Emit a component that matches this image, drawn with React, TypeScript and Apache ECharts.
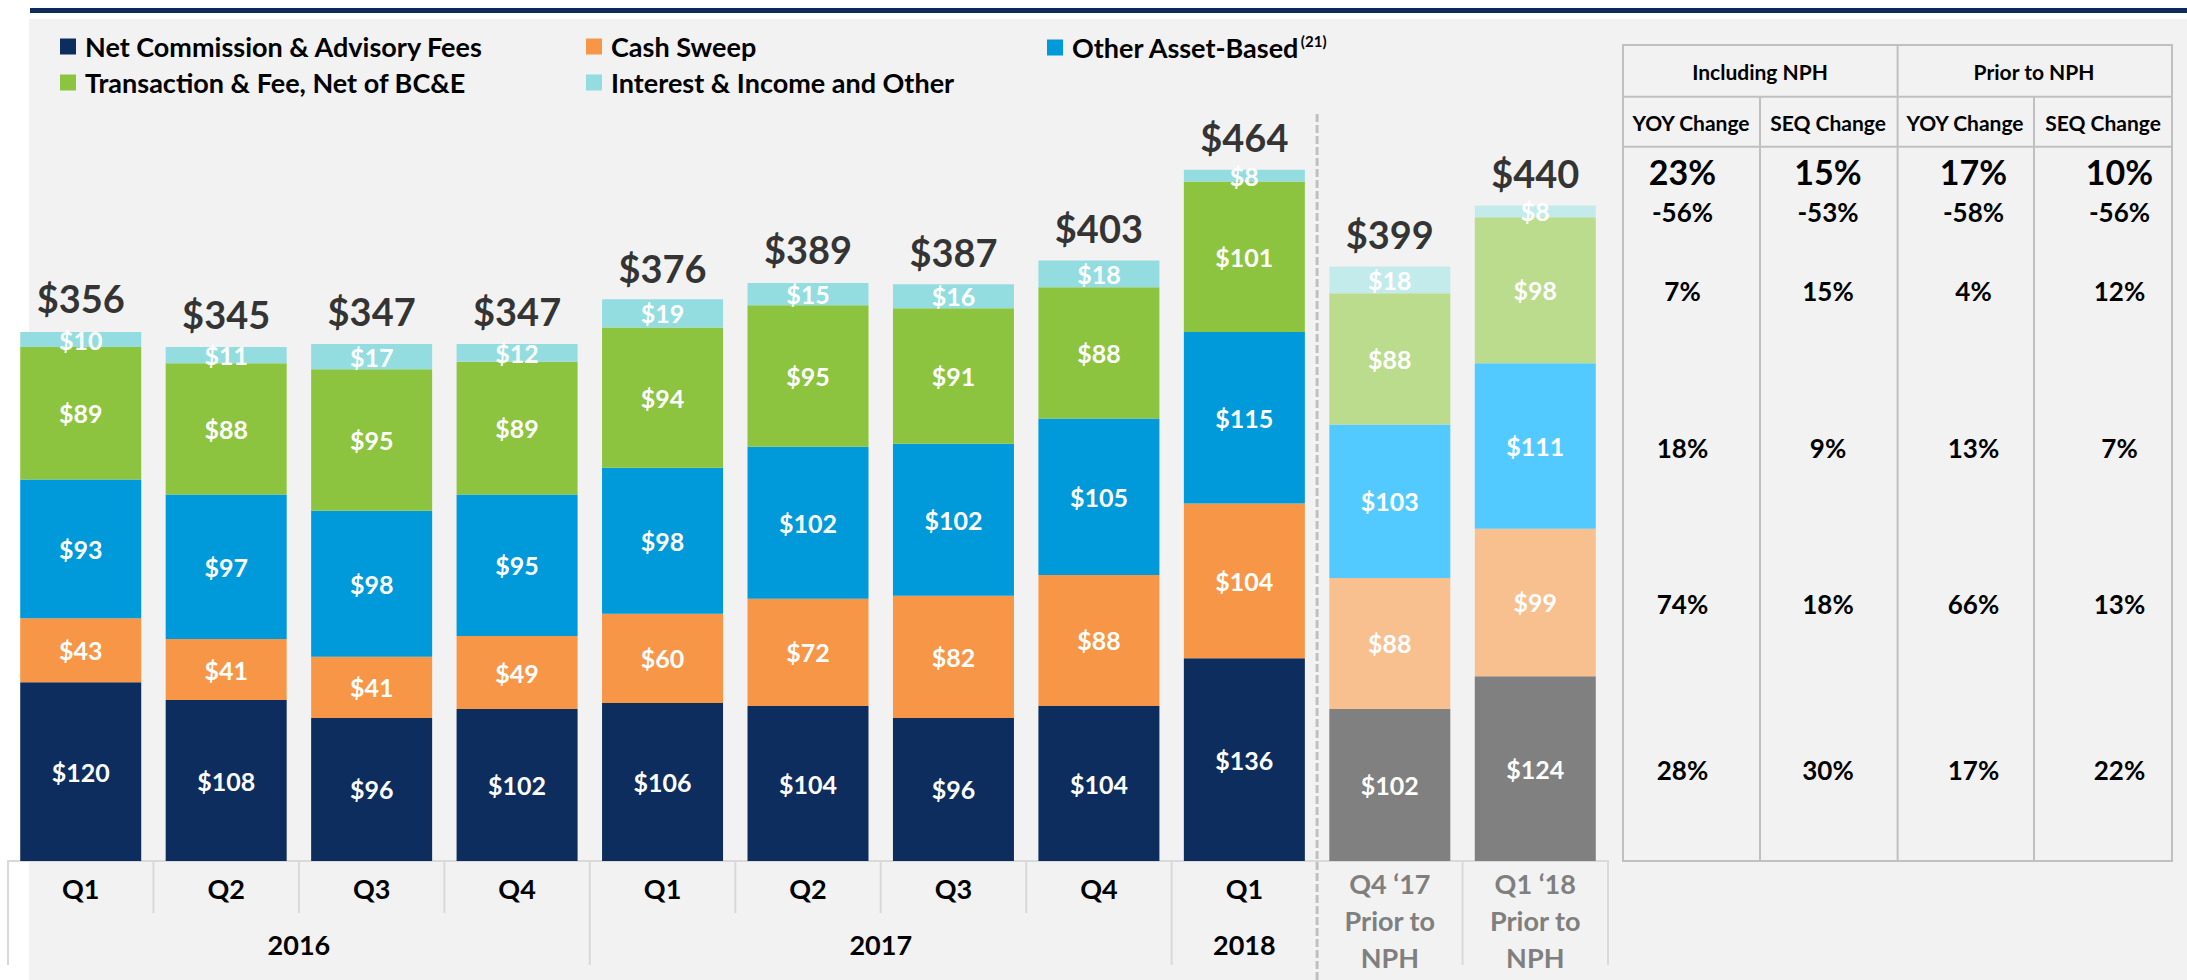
import React, { useEffect, useRef } from 'react';
import * as echarts from 'echarts';

// ---------- DATA ----------
const categories = [
  'Q1 2016', 'Q2 2016', 'Q3 2016', 'Q4 2016',
  'Q1 2017', 'Q2 2017', 'Q3 2017', 'Q4 2017',
  'Q1 2018', 'Q4 ‘17 Prior to NPH', 'Q1 ‘18 Prior to NPH',
];
const quarterLabels = ['Q1', 'Q2', 'Q3', 'Q4', 'Q1', 'Q2', 'Q3', 'Q4', 'Q1', 'Q4 ‘17\nPrior to\nNPH', 'Q1 ‘18\nPrior to\nNPH'];
const priorToNPH = [false, false, false, false, false, false, false, false, false, true, true];

const seriesNames = [
  'Net Commission & Advisory Fees',
  'Cash Sweep',
  'Other Asset-Based',
  'Transaction & Fee, Net of BC&E',
  'Interest & Income and Other',
];
const netCommission = [120, 108, 96, 102, 106, 104, 96, 104, 136, 102, 124];
const cashSweep = [43, 41, 41, 49, 60, 72, 82, 88, 104, 88, 99];
const otherAssetBased = [93, 97, 98, 95, 98, 102, 102, 105, 115, 103, 111];
const transactionFee = [89, 88, 95, 89, 94, 95, 91, 88, 101, 88, 98];
const interestIncome = [10, 11, 17, 12, 19, 15, 16, 18, 8, 18, 8];
const totals = [356, 345, 347, 347, 376, 389, 387, 403, 464, 399, 440];

const yearLabels = ['2016', '2017', '2018'];
const yearPositions = [2, 6, 8.5]; // band units along the category axis
const shortSeparators = [1, 2, 3, 5, 6, 7];
const longSeparators = [0, 4, 8, 10, 11];
const dashedSeparators = [9];

const tableGroups = ['Including NPH', 'Prior to NPH'];
const tableSubHeads = ['YOY Change', 'SEQ Change', 'YOY Change', 'SEQ Change'];
const tableTotalRow = ['23%', '15%', '17%', '10%'];
const tableInterestRow = ['-56%', '-53%', '-58%', '-56%'];
const tableTransactionRow = ['7%', '15%', '4%', '12%'];
const tableOtherRow = ['18%', '9%', '13%', '7%'];
const tableCashRow = ['74%', '18%', '66%', '13%'];
const tableNetRow = ['28%', '30%', '17%', '22%'];

// ---------- STYLE ----------
const FONT = 'Lato, "Noto Sans", sans-serif';
const colors = ['#0D2D5E', '#F79646', '#0099DA', '#8DC43F', '#93DDE0'];
const priorColors = ['#808080', '#F9C08F', '#53CAFF', '#BBDC8D', '#C3EBEC'];
const seriesValues = [netCommission, cashSweep, otherAssetBased, transactionFee, interestIncome];

const W = 2187;
const H = 980;
const GRID = { left: 8, right: 579, top: 116, bottom: 119 };
const Y_MAX = 500;

const TABLE = { left: 1623, right: 2172, top: 45, row1: 96.7, row2: 146.7, bottom: 861 };
const tableColDividers = [1760, 1897.6, 2034];
const tableGroupCenters = [1760, 2034];
const tableHeadCenters = [1691, 1828, 1965, 2103];
const tableBodyCenters = [1682.5, 1828, 1973.5, 2119.5];
const tableRowY = [171.7, 211.7, 290.7, 447.5, 603.7, 770];

function buildOption() {
  const barSeries = seriesNames.map((name, s) => ({
    type: 'bar',
    name,
    stack: 'total',
    barWidth: 121,
    xAxisIndex: 0,
    yAxisIndex: 0,
    itemStyle: { color: colors[s] },
    data: seriesValues[s].map((v, i) => ({
      value: v,
      itemStyle: { color: priorToNPH[i] ? priorColors[s] : colors[s] },
    })),
    label: {
      show: true,
      position: 'inside',
      color: '#FFFFFF',
      fontFamily: FONT,
      fontWeight: 'bold',
      fontSize: 25,
      formatter: (p: any) => '$' + p.value,
    },
  }));

  const totalSeries = {
    type: 'scatter',
    name: 'Total',
    xAxisIndex: 0,
    yAxisIndex: 0,
    data: totals,
    symbolSize: 1,
    itemStyle: { color: 'rgba(0,0,0,0)' },
    z: 5,
    label: {
      show: true,
      position: 'top',
      distance: 13,
      color: '#000000',
      fontFamily: FONT,
      fontWeight: 'bold',
      fontSize: 38,
      formatter: (p: any) => '$' + p.value,
    },
  };

  const separatorData = [
    ...shortSeparators.map((v) => [v, 0]),
    ...longSeparators.map((v) => [v, 1]),
    ...dashedSeparators.map((v) => [v, 2]),
  ];
  const separatorSeries = {
    type: 'custom',
    name: 'separators',
    xAxisIndex: 1,
    yAxisIndex: 0,
    clip: false,
    silent: true,
    data: separatorData,
    renderItem: (params: any, api: any) => {
      const v = api.value(0);
      const kind = api.value(1);
      const base = api.coord([v, 0]);
      if (kind === 2) {
        const top = api.coord([v, Y_MAX]);
        return {
          type: 'line',
          shape: { x1: base[0], y1: top[1] - 2, x2: base[0], y2: H },
          style: { stroke: '#C0C0C0', lineWidth: 3, lineDash: [8, 3] },
        };
      }
      const len = kind === 0 ? 52 : 104;
      return {
        type: 'line',
        shape: { x1: base[0], y1: base[1], x2: base[0], y2: base[1] + len },
        style: { stroke: '#D9D9D9', lineWidth: 2 },
      };
    },
  };

  const legendPos = [
    { left: 60, top: 33 },
    { left: 586, top: 33 },
    { left: 1047, top: 33 },
    { left: 60, top: 69 },
    { left: 586, top: 69 },
  ];
  const legends = seriesNames.map((name, i) => ({
    data: [name],
    left: legendPos[i].left,
    top: legendPos[i].top,
    padding: 0,
    icon: 'rect',
    itemWidth: 16,
    itemHeight: 16,
    selectedMode: false,
    formatter: (n: string) => (n === 'Other Asset-Based' ? '{n|' + n + '}{s|(21)}' : '{n|' + n + '}'),
    textStyle: {
      fontFamily: FONT,
      fontSize: 27,
      fontWeight: 'bold',
      color: '#000000',
      rich: {
        n: { fontFamily: FONT, fontSize: 27, fontWeight: 'bold', color: '#000000', padding: [0, 0, 0, 4] },
        s: { fontFamily: FONT, fontSize: 15, fontWeight: 'bold', color: '#000000', verticalAlign: 'top', padding: [0, 0, 14, 1] },
      },
    },
  }));

  // Table graphics
  const line = (x1: number, y1: number, x2: number, y2: number) => ({
    type: 'line',
    silent: true,
    shape: { x1, y1, x2, y2 },
    style: { stroke: '#C0C0C0', lineWidth: 2 },
  });
  const text = (x: number, y: number, t: string, size: number) => ({
    type: 'text',
    silent: true,
    x,
    y,
    style: {
      text: t,
      fill: '#000000',
      font: `bold ${size}px ${FONT}`,
      fontFamily: FONT,
      fontSize: size,
      fontWeight: 'bold',
      align: 'center',
      verticalAlign: 'middle',
    },
  });
  const tableEls: any[] = [
    {
      type: 'rect',
      silent: true,
      shape: { x: TABLE.left, y: TABLE.top, width: TABLE.right - TABLE.left, height: TABLE.bottom - TABLE.top },
      style: { fill: 'rgba(0,0,0,0)', stroke: '#C0C0C0', lineWidth: 2 },
    },
    line(TABLE.left, TABLE.row1, TABLE.right, TABLE.row1),
    line(TABLE.left, TABLE.row2, TABLE.right, TABLE.row2),
    line(tableColDividers[1], TABLE.top, tableColDividers[1], TABLE.bottom),
    line(tableColDividers[0], TABLE.row1, tableColDividers[0], TABLE.bottom),
    line(tableColDividers[2], TABLE.row1, tableColDividers[2], TABLE.bottom),
  ];
  tableGroups.forEach((g, i) => tableEls.push(text(tableGroupCenters[i], (TABLE.top + TABLE.row1) / 2 + 1, g, 21)));
  tableSubHeads.forEach((h, i) => tableEls.push(text(tableHeadCenters[i], (TABLE.row1 + TABLE.row2) / 2 + 1, h, 21)));
  const bodyRows = [tableTotalRow, tableInterestRow, tableTransactionRow, tableOtherRow, tableCashRow, tableNetRow];
  bodyRows.forEach((row, r) => {
    row.forEach((v, c) => tableEls.push(text(tableBodyCenters[c], tableRowY[r], v, r === 0 ? 34 : 26)));
  });

  return {
    animation: false,
    backgroundColor: '#FFFFFF',
    textStyle: { fontFamily: FONT },
    grid: { ...GRID, containLabel: false, outerBoundsMode: 'none' },
    legend: legends,
    tooltip: { show: false },
    xAxis: [
      {
        type: 'category',
        data: categories,
        position: 'bottom',
        boundaryGap: true,
        axisLine: { show: true, lineStyle: { color: '#D9D9D9', width: 2 } },
        axisTick: { show: false },
        splitLine: { show: false },
        axisLabel: {
          interval: 0,
          margin: 4,
          formatter: (_v: string, idx: number) => {
            const lbl = quarterLabels[idx];
            if (priorToNPH[idx]) return lbl.split('\n').map((l) => '{g|' + l + '}').join('\n');
            return '{q|' + lbl + '}';
          },
          rich: {
            q: { fontFamily: FONT, fontSize: 27, fontWeight: 'bold', color: '#000000', lineHeight: 37, padding: [9, 0, 0, 0] },
            g: { fontFamily: FONT, fontSize: 27, fontWeight: 'bold', color: '#7F7F7F', lineHeight: 37 },
          },
        },
      },
      {
        type: 'value',
        min: 0,
        max: categories.length,
        position: 'bottom',
        show: false,
      },
      {
        type: 'value',
        min: 0,
        max: categories.length,
        position: 'bottom',
        axisLine: { show: false },
        axisTick: { show: false },
        splitLine: { show: false },
        axisLabel: {
          customValues: yearPositions,
          margin: 70,
          fontFamily: FONT,
          fontSize: 27,
          fontWeight: 'bold',
          color: '#000000',
          formatter: (v: number) => {
            const k = yearPositions.indexOf(v);
            return k >= 0 ? yearLabels[k] : '';
          },
        },
      },
    ],
    yAxis: [{ type: 'value', min: 0, max: Y_MAX, show: false }],
    graphic: {
      elements: [
        { type: 'rect', z: -10, silent: true, shape: { x: 29, y: 19, width: W - 29, height: H - 19 }, style: { fill: '#F2F2F2' } },
        { type: 'rect', z: -10, silent: true, shape: { x: 30, y: 8, width: W - 30, height: 5 }, style: { fill: '#0E2B5C' } },
        ...tableEls,
      ],
    },
    series: [...barSeries, totalSeries, separatorSeries],
  };
}

export default function App() {
  const ref = useRef<HTMLDivElement>(null);
  useEffect(() => {
    document.body.style.margin = '0';
    if (!ref.current) return;
    const chart = echarts.init(ref.current, null, { renderer: 'svg' });
    chart.setOption(buildOption() as any);
    return () => chart.dispose();
  }, []);
  return <div ref={ref} style={{ width: W, height: H }} />;
}
